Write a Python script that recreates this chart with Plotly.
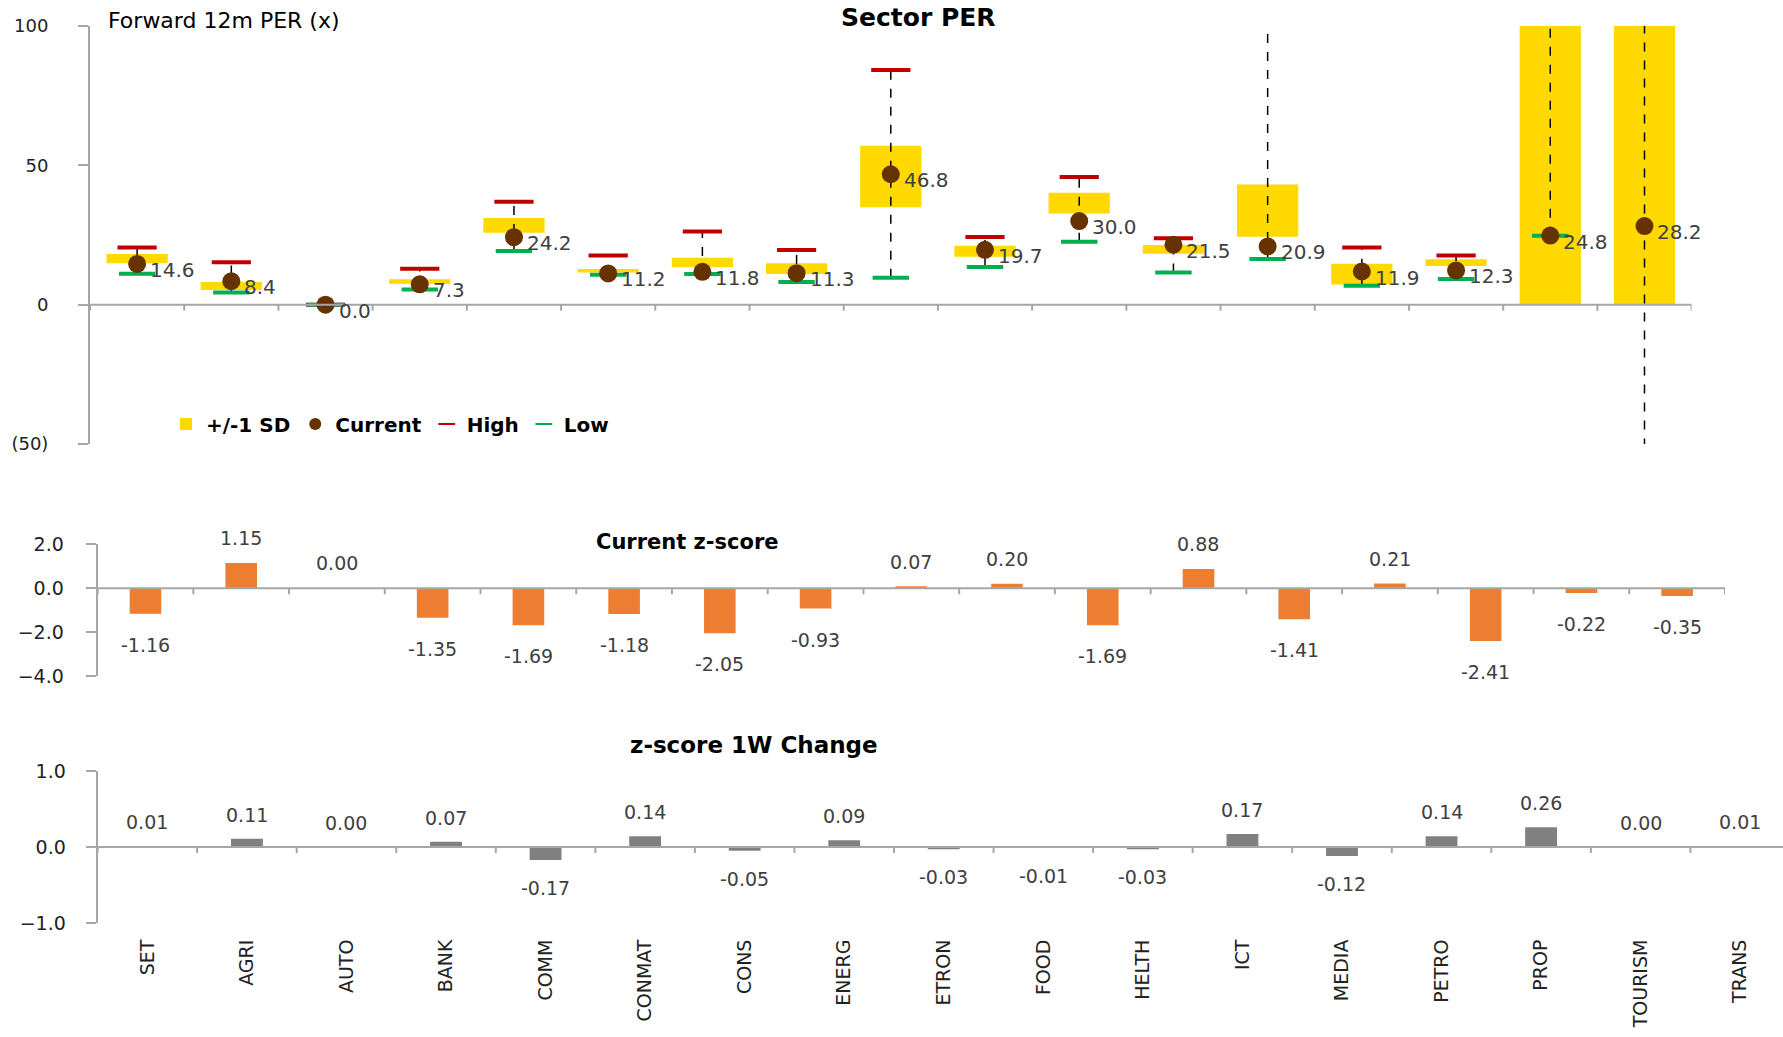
import plotly.graph_objects as go

# ---- data ----
sectors = ["SET", "AGRI", "AUTO", "BANK", "COMM", "CONMAT", "CONS", "ENERG", "ETRON",
           "FOOD", "HELTH", "ICT", "MEDIA", "PETRO", "PROP", "TOURISM", "TRANS"]

per_current = [14.6, 8.4, 0.0, 7.3, 24.2, 11.2, 11.8, 11.3, 46.8, 19.7, 30.0, 21.5, 20.9, 11.9, 12.3, 24.8, 28.2]
per_sd_low = [14.9, 5.3, 0.0, 7.5, 25.8, 11.5, 13.4, 11.0, 35.0, 17.2, 32.7, 18.3, 24.4, 7.2, 13.9, 0.0, 0.0]
per_sd_high = [18.2, 8.1, 0.0, 9.1, 31.1, 12.8, 16.8, 14.9, 57.0, 21.1, 40.2, 21.4, 43.1, 14.7, 16.3, 160.0, 170.0]
per_high = [20.5, 15.2, 0.0, 12.9, 36.9, 17.6, 26.3, 19.6, 84.2, 24.3, 45.8, 23.8, 180.0, 20.5, 17.6, 260.0, 280.0]
per_low = [11.1, 4.4, 0.0, 5.4, 19.3, 10.7, 11.0, 8.1, 9.7, 13.5, 22.6, 11.5, 16.4, 6.8, 9.2, 24.7, -90.0]

z_current = [-1.16, 1.15, 0.00, -1.35, -1.69, -1.18, -2.05, -0.93, 0.07, 0.20, -1.69, 0.88, -1.41, 0.21, -2.41, -0.22, -0.35]
z_change_1w = [0.01, 0.11, 0.00, 0.07, -0.17, 0.14, -0.05, 0.09, -0.03, -0.01, -0.03, 0.17, -0.12, 0.14, 0.26, 0.00, 0.01]

per_ticks = [100, 50, 0, -50]
per_tick_text = ["100", "50", "0", "(50)"]

# ---- styling ----
FONT = "DejaVu Sans"
AXIS_GREY = "#A6A6A6"
LABEL_GREY = "#404040"
YELLOW = "#FFD900"
BROWN = "#663300"
RED = "#C00000"
GREEN = "#00B050"
ORANGE = "#ED7D31"
BAR_GREY = "#808080"

W, H = 1783, 1037
n = len(sectors)

fig = go.Figure()

# ---- Sector PER panel ----
fig.add_trace(go.Bar(
    x=sectors, y=[h - l for h, l in zip(per_sd_high, per_sd_low)], base=per_sd_low,
    width=0.65, marker=dict(color=YELLOW, line=dict(width=0)), name="+/-1 SD",
    legendrank=1, xaxis="x", yaxis="y", hoverinfo="skip"))

dash_x, dash_y = [], []
for s, lo, hi in zip(sectors, per_low, per_high):
    dash_x += [s, s, None]
    dash_y += [lo, hi, None]
fig.add_trace(go.Scatter(
    x=dash_x, y=dash_y, mode="lines", line=dict(color="black", width=1.5, dash="dash"),
    showlegend=False, xaxis="x", yaxis="y", hoverinfo="skip"))

fig.add_trace(go.Scatter(
    x=sectors, y=per_high, mode="markers", name="High", legendrank=3,
    marker=dict(symbol="line-ew", size=28, line=dict(width=4, color=RED)),
    xaxis="x", yaxis="y"))
fig.add_trace(go.Scatter(
    x=sectors, y=per_low, mode="markers", name="Low", legendrank=4,
    marker=dict(symbol="line-ew", size=26, line=dict(width=4, color=GREEN)),
    xaxis="x", yaxis="y"))
fig.add_trace(go.Scatter(
    x=sectors, y=per_current, mode="markers", name="Current", legendrank=2,
    marker=dict(symbol="circle", size=18, color=BROWN, line=dict(width=0)),
    xaxis="x", yaxis="y"))

# ---- Current z-score panel ----
fig.add_trace(go.Bar(
    x=sectors, y=z_current, width=0.33, marker=dict(color=ORANGE, line=dict(width=0)),
    showlegend=False, xaxis="x2", yaxis="y2"))

# ---- z-score 1W change panel ----
fig.add_trace(go.Bar(
    x=sectors, y=z_change_1w, width=0.32, marker=dict(color=BAR_GREY, line=dict(width=0)),
    showlegend=False, xaxis="x3", yaxis="y3"))

annotations = []

# value labels
for s, v in zip(sectors, per_current):
    annotations.append(dict(x=s, y=v, xref="x", yref="y", text=f"{v:.1f}", showarrow=False,
                            xanchor="left", yanchor="middle", xshift=11, yshift=-6,
                            font=dict(family=FONT, size=20, color=LABEL_GREY)))
for s, v in zip(sectors, z_current):
    annotations.append(dict(x=s, y=v, xref="x2", yref="y2", text=f"{v:.2f}", showarrow=False,
                            xanchor="center", yanchor="bottom" if v >= 0 else "top",
                            yshift=12 if v >= 0 else -18,
                            font=dict(family=FONT, size=19, color=LABEL_GREY)))
for s, v in zip(sectors, z_change_1w):
    annotations.append(dict(x=s, y=v, xref="x3", yref="y3", text=f"{v:.2f}", showarrow=False,
                            xanchor="center", yanchor="bottom" if v >= 0 else "top",
                            yshift=11 if v >= 0 else -15,
                            font=dict(family=FONT, size=19, color=LABEL_GREY)))

# panel titles
annotations += [
    dict(x=918 / W, y=1 - 17 / H, xref="paper", yref="paper", text="<b>Sector PER</b>",
         showarrow=False, xanchor="center", yanchor="middle",
         font=dict(family=FONT, size=25, color="black")),
    dict(x=106 / W, y=1 - 21 / H, xref="paper", yref="paper", text="Forward 12m PER (x)",
         showarrow=False, xanchor="left", yanchor="middle",
         font=dict(family=FONT, size=22, color="black")),
    dict(x=687 / W, y=1 - 542 / H, xref="paper", yref="paper", text="<b>Current z-score</b>",
         showarrow=False, xanchor="center", yanchor="middle",
         font=dict(family=FONT, size=21, color="black")),
    dict(x=754 / W, y=1 - 745 / H, xref="paper", yref="paper", text="<b>z-score 1W Change</b>",
         showarrow=False, xanchor="center", yanchor="middle",
         font=dict(family=FONT, size=23, color="black")),
]

# horizontal category axes drawn through zero, with ticks on category boundaries
shapes = []
for xr, yr in (("x", "y"), ("x2", "y2"), ("x3", "y3")):
    shapes.append(dict(type="line", xref=xr, yref=yr, x0=-0.5, x1=n - 0.5, y0=0, y1=0,
                       line=dict(color=AXIS_GREY, width=2), layer="above"))
    for k in range(n + 1):
        b = k - 0.5
        shapes.append(dict(type="line", xref=xr, yref=yr, x0=b, x1=b,
                           ysizemode="pixel", yanchor=0, y0=0, y1=-6,
                           line=dict(color=AXIS_GREY, width=2), layer="above"))

common_x = dict(type="category", categoryarray=sectors, showgrid=False, zeroline=False,
                showline=False, fixedrange=True, automargin=False)
common_y = dict(showgrid=False, zeroline=False, showline=True, linecolor=AXIS_GREY, linewidth=2,
                ticks="outside", tickcolor=AXIS_GREY, tickwidth=2, ticklen=10, automargin=False,
                tickfont=dict(family=FONT, size=19, color="#222222"))

fig.update_layout(
    width=W, height=H, autosize=False,
    margin=dict(l=0, r=0, t=0, b=0, pad=0),
    paper_bgcolor="white", plot_bgcolor="white",
    barmode="overlay",
    font=dict(family=FONT, color="#222222"),
    xaxis=dict(common_x, domain=[90 / W, 1691.6 / W], range=[-0.5, n - 0.5],
               anchor="y", showticklabels=False, ticks=""),
    yaxis=dict(common_y, domain=[1 - 444 / H, 1 - 26 / H], range=[-50, 100], anchor="x",
               tickvals=per_ticks, ticktext=per_tick_text, ticklabelstandoff=26,
               tickfont=dict(family=FONT, size=18, color="#222222")),
    xaxis2=dict(common_x, domain=[97.6 / W, 1725 / W], range=[-0.5, n - 0.5],
                anchor="y2", showticklabels=False, ticks=""),
    yaxis2=dict(common_y, domain=[1 - 676 / H, 1 - 544.3 / H], range=[-4, 2], anchor="x2",
                tickvals=[2, 0, -2, -4], tickformat=".1f", ticklabelstandoff=18),
    xaxis3=dict(common_x, domain=[97.6 / W, 1.0], range=[-0.5, n - 0.57],
                anchor="y3", showticklabels=True, ticks="outside", ticklen=8,
                tickcolor="rgba(0,0,0,0)", tickangle=-90,
                tickfont=dict(family=FONT, size=19, color="#222222")),
    yaxis3=dict(common_y, domain=[1 - 923 / H, 1 - 771 / H], range=[-1, 1], anchor="x3",
                tickvals=[1, 0, -1], tickformat=".1f", ticklabelstandoff=16),
    legend=dict(orientation="h", x=166 / W, y=1 - 424 / H, xanchor="left", yanchor="middle",
                bgcolor="rgba(0,0,0,0)", itemsizing="constant",
                font=dict(family=FONT, size=20, color="black", weight="bold"),
                itemwidth=30, tracegroupgap=0),
    shapes=shapes,
    annotations=annotations,
    showlegend=True,
)

fig.write_html("out.html")
